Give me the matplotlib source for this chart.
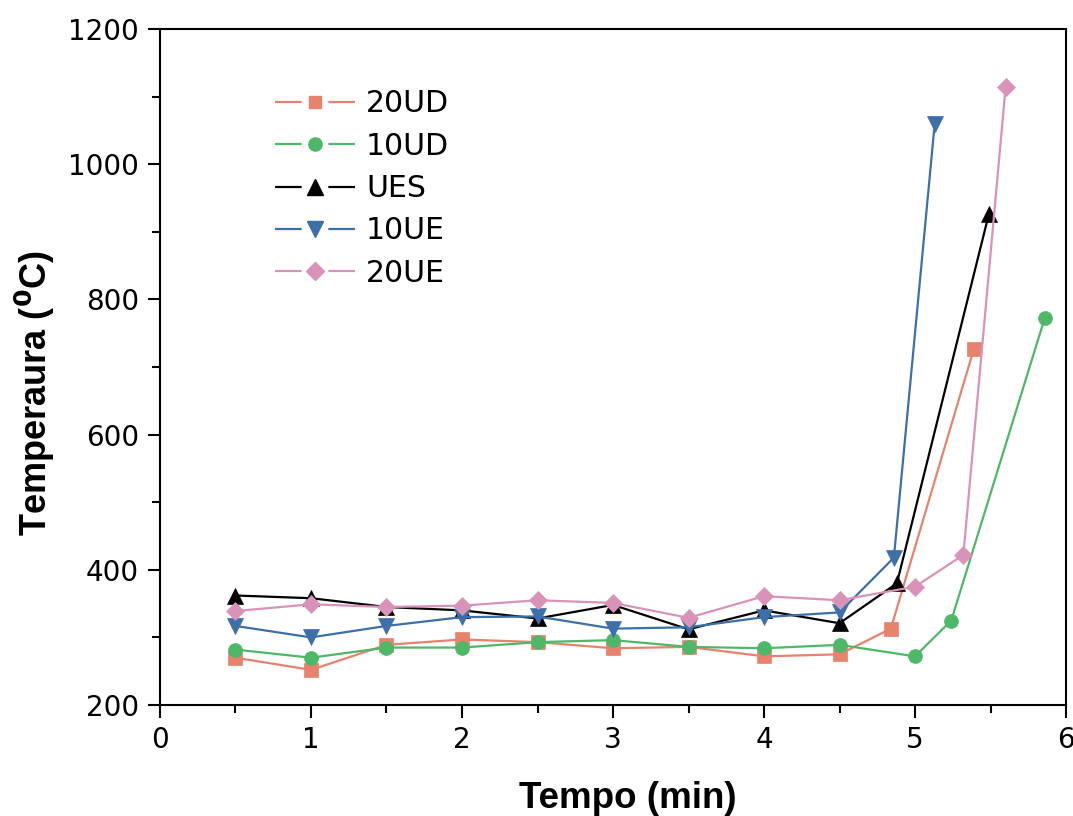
import matplotlib
matplotlib.use("Agg")
import matplotlib.pyplot as plt
from matplotlib.lines import Line2D
from matplotlib.ticker import MultipleLocator

plt.rcParams["font.family"] = ["DejaVu Sans"]
plt.rcParams["lines.scale_dashes"] = False

# temperature vs time, one pair of lists per sample
x_20ud = [0.5, 1.0, 1.5, 2.0, 2.5, 3.0, 3.5, 4.0, 4.5, 4.84, 5.39]
y_20ud = [270, 252, 289, 297, 293, 284, 286, 272, 275, 313, 727]

x_10ud = [0.5, 1.0, 1.5, 2.0, 2.5, 3.0, 3.5, 4.0, 4.5, 5.0, 5.24, 5.86]
y_10ud = [282, 270, 285, 285, 293, 296, 286, 284, 289, 272, 325, 773]

x_ues = [0.5, 1.0, 1.5, 2.0, 2.5, 3.0, 3.5, 4.0, 4.5, 4.88, 5.49]
y_ues = [362, 358, 345, 340, 328, 348, 312, 340, 321, 380, 927]

x_10ue = [0.5, 1.0, 1.5, 2.0, 2.5, 3.0, 3.5, 4.0, 4.5, 4.86, 5.13]
y_10ue = [317, 300, 317, 330, 331, 313, 315, 330, 337, 418, 1059]

x_20ue = [0.5, 1.0, 1.5, 2.0, 2.5, 3.0, 3.5, 4.0, 4.5, 5.0, 5.32, 5.6]
y_20ue = [339, 349, 345, 347, 355, 351, 329, 361, 355, 375, 422, 1114]

labels = ["20UD", "10UD", "UES", "10UE", "20UE"]
colors = ["#E8826C", "#4DB868", "#000000", "#3D6FA8", "#D992B8"]
markers = ["s", "o", "^", "v", "D"]
msizes = [9.5, 10, 12, 12, 9.5]

series = [(x_20ud, y_20ud), (x_10ud, y_10ud), (x_ues, y_ues),
          (x_10ue, y_10ue), (x_20ue, y_20ue)]

fig = plt.figure(figsize=(10.73, 8.16), dpi=100)
ax = fig.add_axes([0.1491, 0.136, 0.9935 - 0.1491, 0.9645 - 0.136])

for (xs, ys), c, m, ms in zip(series, colors, markers, msizes):
    ax.plot(xs, ys, color=c, lw=1.6, marker=m, markersize=ms,
            markerfacecolor=c, markeredgecolor=c, markeredgewidth=0.5)

ax.set_xlim(0, 6)
ax.set_ylim(200, 1200)
ax.xaxis.set_major_locator(MultipleLocator(1))
ax.xaxis.set_minor_locator(MultipleLocator(0.5))
ax.yaxis.set_major_locator(MultipleLocator(200))
ax.yaxis.set_minor_locator(MultipleLocator(100))
ax.tick_params(which="both", direction="out", width=1.5, top=False, right=False,
               labelsize=20)
ax.tick_params(which="major", length=9, pad=6)
ax.tick_params(which="minor", length=5.5)
for sp in ax.spines.values():
    sp.set_linewidth(1.5)

# legend handles with a break in the line around the marker (Origin style)
handles = []
for c, m, ms in zip(colors, markers, msizes):
    handles.append(Line2D([], [], color=c, lw=1.6, linestyle=(0, (19.2, 19.2)),
                          marker=m, markersize=ms * 0.95, markerfacecolor=c,
                          markeredgecolor=c))
ax.legend(handles, labels, loc="upper left", bbox_to_anchor=(0.127, 0.911),
          frameon=False, fontsize=21.5, handlelength=2.68, handletextpad=0.37,
          labelspacing=0.45, borderpad=0, borderaxespad=0, numpoints=1)

label_font = ["Liberation Sans", "DejaVu Sans"]
fig.text(628 / 1073, 1 - 799 / 816, "Tempo (min)", ha="center", va="center",
         fontsize=26.5, fontweight="bold", family=label_font)
fig.text(35 / 1073, 1 - 393 / 816, "Temperaura ($\\mathbf{^0}$C)", ha="center",
         va="center", rotation=90, fontsize=26, fontweight="bold",
         family=label_font)

fig.savefig("out.png", dpi=100)
